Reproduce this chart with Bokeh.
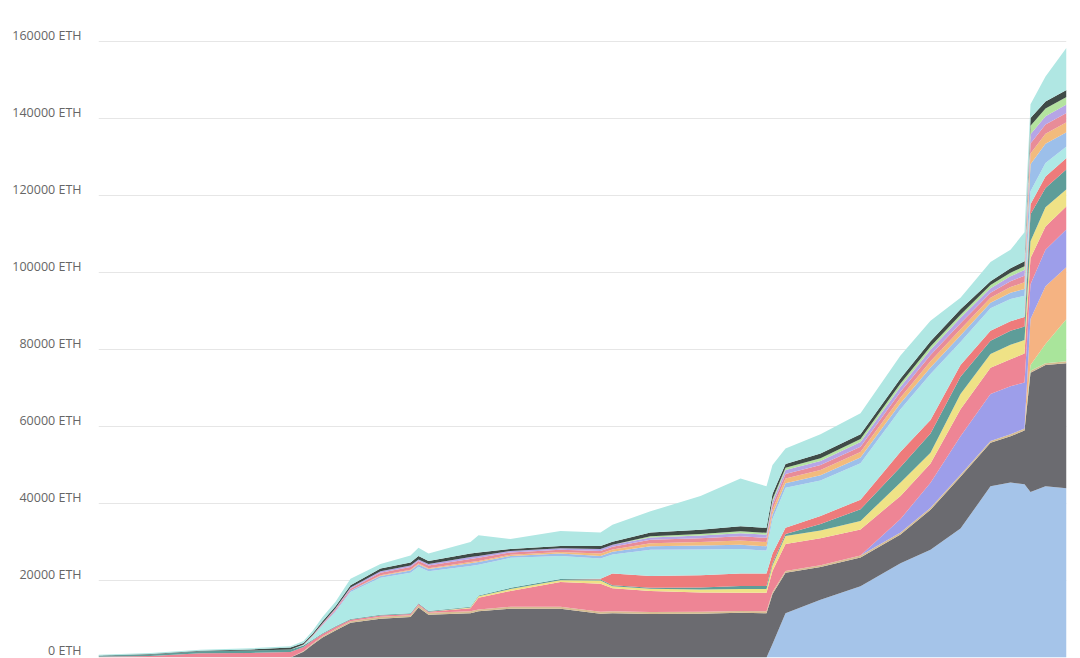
from bokeh.plotting import figure
from bokeh.models import (ColumnDataSource, Range1d, FixedTicker, PrintfTickFormatter,
                          LinearAxis)
from bokeh.embed import file_html
from bokeh.resources import INLINE

# x positions (days since start)
day = [0, 52, 102, 152, 192, 205, 214, 224, 237, 252, 282, 312, 320, 330, 372, 380, 412, 462,
       502, 514, 552, 602, 642, 668, 674, 687, 722, 762, 802, 832, 862, 892, 912, 926, 932, 947, 968]

# layer thicknesses in ETH, bottom to top
blue_a = [0, 0, 0, 0, 0, 0, 0, 0, 0, 0, 0, 0, 0, 0, 0, 0, 0, 0, 0, 0, 0, 0, 0, 0,
          3500, 11500, 15000, 18500, 24500, 28000, 33500, 44500, 45500, 45000, 43000, 44500, 44000]
gray = [0, 0, 0, 0, 0, 1500, 3300, 5200, 7000, 9000, 10100, 10500, 13000, 11100, 11500, 12000,
        12700, 12700, 11400, 11500, 11300, 11400, 11600, 11500, 13000, 10500, 8500, 7500, 7500,
        10400, 13500, 11300, 12000, 14000, 31000, 31500, 32500]
tan = [0, 0, 0, 0, 0, 200, 300, 300, 400, 400, 500, 500, 600, 500, 500, 500, 500, 500, 500, 500,
       500, 500, 500, 500, 500, 500, 500, 500, 500, 500, 500, 500, 500, 500, 500, 500, 500]
green = [0] * 34 + [1500, 5000, 11000]
orange = [0] * 34 + [12000, 15000, 13500]
violet = [0] * 28 + [3500, 6500, 10000, 12200, 12500, 12000, 9000, 9500, 9800]
pink = [200, 400, 1100, 1200, 1400, 1000, 800, 600, 500, 400, 300, 300, 300, 300, 800, 3000,
        4100, 6400, 7300, 6000, 5500, 5000, 4700, 4800, 5500, 7000, 7000, 6800, 6000, 5000, 7000,
        6800, 7000, 7500, 6800, 6000, 6000]
yellow = [0] * 14 + [200, 400, 500, 500, 800, 500, 600, 800, 1000, 1000, 1500, 2100, 2000, 2200,
                     3500, 2800, 4000, 3600, 3800, 3500, 4400, 5000, 4400]
teal = [300, 400, 500, 600, 700, 400, 200, 200, 200, 200, 200, 200, 200, 200, 200, 200, 300, 300,
        300, 300, 200, 500, 800, 800, 500, 500, 1700, 3000, 4000, 5000, 4500, 3400, 3600, 3500,
        7000, 5000, 5200]
red = [0] * 18 + [200, 3000, 3100, 3200, 3200, 3200, 2500, 1600, 2100, 2500, 4000, 3500, 3000,
                  2600, 2500, 2500, 2600, 3000, 2900]
cyan_a = [0, 0, 0, 0, 0, 200, 900, 2000, 3800, 7000, 9600, 10500, 9500, 10300, 10600, 8000, 7800,
          6000, 5200, 5000, 6800, 6700, 6400, 6000, 9000, 10400, 9200, 9500, 11000, 12000, 6000,
          5900, 5800, 5500, 3400, 3500, 3000]
stripe_1 = [0, 0, 0, 0, 0, 0, 100, 200, 300, 400, 500, 600, 600, 600, 700, 700, 500, 600, 700, 700,
            900, 1000, 1100, 1100, 1200, 1200, 1400, 1500, 1600, 1700, 1700, 1400, 1600, 1800,
            7000, 5000, 3700]
stripe_2 = [0, 0, 0, 0, 0, 0, 0, 0, 0, 0, 200, 200, 200, 200, 300, 300, 300, 400, 600, 600, 800,
            900, 1100, 1100, 1200, 1200, 1300, 1400, 1500, 1600, 1600, 1300, 1500, 1700, 2800,
            2600, 2600]
stripe_3 = [0, 0, 0, 0, 0, 100, 200, 300, 400, 500, 600, 700, 700, 700, 800, 800, 600, 600, 700,
            700, 900, 1000, 1100, 1100, 1200, 1200, 1300, 1400, 1500, 1600, 1600, 1300, 1500,
            1700, 2600, 2400, 2400]
stripe_4 = [0, 0, 0, 0, 0, 0, 0, 100, 200, 300, 400, 400, 400, 400, 500, 500, 400, 400, 500, 500,
            600, 700, 800, 800, 900, 1000, 1100, 1200, 1300, 1400, 1400, 1200, 1300, 1500, 2400,
            2200, 2200]
stripe_5 = [0] * 20 + [300, 400, 500, 500, 600, 600, 700, 800, 800, 800, 800, 800, 900, 1000,
                       2200, 2000, 2000]
stripe_6 = [0, 100, 150, 300, 500, 400, 400, 500, 500, 600, 700, 800, 900, 800, 900, 900, 500,
            600, 800, 800, 1000, 1100, 1300, 1300, 1400, 1000, 1200, 1200, 1300, 1400, 1400,
            1000, 1200, 1300, 2000, 1800, 1800]
cyan_b = [200, 250, 250, 300, 300, 500, 700, 1100, 1200, 1700, 1200, 1800, 2100, 1900, 3000,
          4500, 2600, 3900, 3500, 4400, 5500, 8800, 12400, 10800, 7500, 4000, 5000, 5500, 6000,
          5300, 3000, 5000, 4800, 7500, 3600, 6500, 11000]

# y-axis ticks
tick_values = [0, 20000, 40000, 60000, 80000, 100000, 120000, 140000, 160000]

layers = ["blue_a", "gray", "tan", "green", "orange", "violet", "pink", "yellow", "teal", "red",
          "cyan_a", "stripe_1", "stripe_2", "stripe_3", "stripe_4", "stripe_5", "stripe_6", "cyan_b"]
colors = ["#a5c4e9", "#6b6b70", "#d6bd92", "#a9e59b", "#f5b382", "#9d9eea", "#ee8595", "#efe286",
          "#5e9d99", "#ee7b7b", "#aee9e6", "#9cbfea", "#f2bb7d", "#e88c98", "#b6a5e6", "#b4e3a0",
          "#3f4b47", "#b0e7e3"]

data = dict(day=day, blue_a=blue_a, gray=gray, tan=tan, green=green, orange=orange, violet=violet,
            pink=pink, yellow=yellow, teal=teal, red=red, cyan_a=cyan_a, stripe_1=stripe_1,
            stripe_2=stripe_2, stripe_3=stripe_3, stripe_4=stripe_4, stripe_5=stripe_5,
            stripe_6=stripe_6, cyan_b=cyan_b)
src = ColumnDataSource(data)

Y_TOP = 164000
FRAME_H = 631
LABEL_SHIFT = 6 * Y_TOP / FRAME_H  # tick labels sit ~6px above their gridlines

p = figure(width=1072, height=658, output_backend="svg", toolbar_location=None,
           x_range=Range1d(0, 968), y_range=Range1d(0, Y_TOP),
           min_border_left=98, min_border_right=6, min_border_top=26, min_border_bottom=1)
p.outline_line_color = None
p.background_fill_color = "white"
p.border_fill_color = "white"

p.varea_stack(stackers=layers, x="day", color=colors, source=src)

p.xaxis.visible = False
p.yaxis.visible = False
p.xgrid.visible = False
p.ygrid.ticker = FixedTicker(ticks=tick_values)
p.ygrid.grid_line_color = "#e6e6e6"
p.ygrid.grid_line_width = 1
p.ygrid.level = "underlay"

p.extra_y_ranges = {"lab": Range1d(-LABEL_SHIFT, Y_TOP - LABEL_SHIFT)}
ax = LinearAxis(y_range_name="lab", ticker=FixedTicker(ticks=tick_values),
                formatter=PrintfTickFormatter(format="%d ETH"))
ax.axis_line_color = None
ax.major_tick_line_color = None
ax.minor_tick_line_color = None
ax.major_label_standoff = 11
ax.major_label_text_font = "Open Sans"
ax.major_label_text_font_size = "12.5px"
ax.major_label_text_color = "#666666"
p.add_layout(ax, "left")

open("out.html", "w").write(file_html(p, INLINE))
